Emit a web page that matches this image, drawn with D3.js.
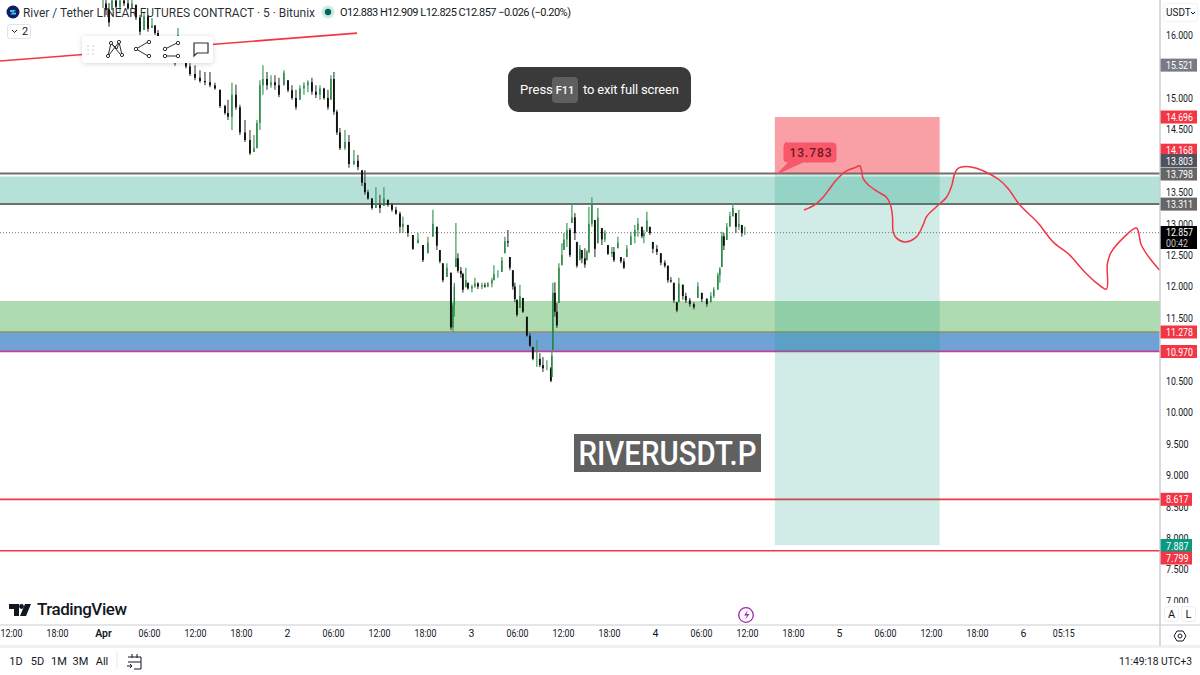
<!DOCTYPE html>
<html><head><meta charset="utf-8">
<script src="https://cdn.jsdelivr.net/npm/d3@7"></script>
<style>
html,body{margin:0;padding:0;background:#fff;overflow:hidden}
svg{display:block}
text{font-family:Roboto,"Noto Sans",sans-serif}
</style></head><body>
<svg id="c" width="1200" height="675"></svg>
<script>
// Hours since 1 Apr 00:00
const barHour=[-0.13,0.26,0.65,1.04,1.56,2.09,2.61,3.13,3.65,4.17,4.69,5.22,5.74,6.26,6.65,7.04,7.56,8.35,8.87,9.26,9.65,10.17,10.69,11.21,11.87,12.52,13.17,13.82,14.47,15.13,15.78,16.17,16.69,17.21,17.73,18.39,19.04,19.56,19.95,20.34,20.73,21.26,21.78,22.30,22.82,23.47,24.0,24.52,25.04,25.56,26.08,26.6,27.12,27.64,28.17,28.69,29.21,29.6,29.99,30.38,30.77,31.43,31.95,32.6,33.12,33.65,34.03,34.43,34.95,35.47,35.99,36.51,37.03,37.56,38.08,38.6,38.99,39.64,40.29,40.95,41.6,42.25,42.9,43.42,43.81,44.2,44.73,45.25,45.51,45.7,45.9,46.16,46.55,46.81,47.2,47.47,47.99,48.38,48.77,49.29,49.68,50.07,50.6,50.86,51.38,51.9,52.29,52.68,52.94,53.33,53.59,53.86,54.25,54.64,55.16,55.55,55.94,56.46,56.85,57.25,57.77,58.29,58.42,58.55,58.81,59.07,59.34,59.73,59.99,60.38,60.77,61.03,61.42,61.68,62.07,62.33,62.72,62.99,63.25,63.64,64.03,64.42,64.94,65.33,65.73,66.25,66.51,67.03,67.42,67.81,68.2,68.72,69.24,69.64,70.16,70.42,70.81,71.2,71.59,72.11,72.63,73.15,73.55,73.94,74.33,74.72,74.98,75.5,75.89,76.41,76.94,77.46,77.98,78.63,79.15,79.54,80.07,80.33,80.59,80.85,81.24,81.64,82.03,82.42,82.81,83.2,83.59];
const barHigh=[16.64,16.64,16.51,16.60,16.60,16.64,16.64,16.59,16.56,16.48,16.32,16.37,16.32,16.27,16.16,16.08,15.95,15.89,15.92,15.60,16.11,15.84,15.68,15.55,15.52,15.44,15.41,15.41,15.24,15.13,14.89,14.97,15.24,15.21,14.89,14.65,14.49,14.41,14.65,15.28,15.52,15.41,15.36,15.36,15.32,15.44,15.28,15.20,15.13,15.20,15.25,15.28,15.32,15.2,15.2,15.16,15.13,15.36,15.41,14.81,14.52,14.49,14.41,14.17,14.09,13.85,13.85,13.54,13.41,13.58,13.46,13.58,13.38,13.33,13.27,13.19,13.11,12.98,12.82,12.85,12.66,12.79,13.22,12.95,12.58,12.37,12.37,12.22,11.74,12.06,13.01,12.53,12.31,12.22,12.3,12.06,12.03,12.14,12.07,12.06,12.06,12.07,12.14,12.34,12.26,12.47,12.79,12.9,12.47,12.26,12.06,11.79,12.03,11.82,11.52,11.26,11.04,11.15,10.94,10.88,10.83,10.72,10.99,12.06,12.07,11.74,12.37,12.69,12.85,13.01,12.93,13.33,13.17,12.71,12.66,12.58,12.61,12.58,13.27,13.42,13.06,13.25,12.93,12.9,12.66,12.63,12.63,12.79,12.47,12.45,12.66,12.87,12.98,13.09,12.95,12.9,13.19,12.95,12.71,12.66,12.53,12.42,12.34,12.15,12.06,11.75,12.14,12.03,11.9,11.82,11.75,12.07,11.9,11.82,11.91,11.99,12.22,12.31,12.87,12.85,13.01,13.19,13.33,13.17,13.22,12.98,12.95];
const barLow=[16.43,16.32,16.13,16.40,16.43,16.37,16.46,16.40,16.43,16.24,16.0,16.08,16.05,16.11,16.0,15.89,15.76,15.68,15.63,15.51,15.98,15.57,15.47,15.35,15.28,15.24,15.20,15.17,15.13,14.84,14.73,14.65,14.49,14.81,14.41,14.30,14.09,14.14,14.20,14.49,15.05,15.13,15.16,15.13,15.01,15.20,15.09,14.97,14.81,14.97,15.05,15.09,15.05,15.0,14.97,14.97,14.81,14.97,14.73,14.41,14.17,14.17,13.89,13.93,13.85,13.6,13.46,13.38,13.22,13.25,13.17,13.28,13.27,13.19,13.14,12.85,12.85,12.79,12.58,12.69,12.39,12.53,12.79,12.58,12.37,12.07,12.15,11.31,11.28,11.52,12.31,12.22,12.14,11.9,11.99,11.95,11.91,11.98,11.96,11.96,11.98,11.99,11.99,12.1,12.14,12.23,12.53,12.63,12.26,11.95,11.75,11.52,11.66,11.58,11.2,11.04,10.83,10.72,10.72,10.64,10.67,10.48,10.56,10.99,11.52,11.34,11.74,12.34,12.58,12.63,12.47,13.01,12.74,12.3,12.42,12.37,12.3,12.42,12.53,12.95,12.47,12.69,12.66,12.71,12.5,12.47,12.39,12.61,12.37,12.28,12.47,12.66,12.69,12.79,12.77,12.69,12.87,12.82,12.53,12.5,12.34,12.3,12.06,12.06,11.74,11.59,11.75,11.79,11.74,11.68,11.64,11.82,11.75,11.68,11.75,11.82,11.95,12.06,12.31,12.58,12.74,12.95,13.11,12.85,12.9,12.79,12.82];
const barClose=[16.50,16.40,16.20,16.55,16.45,16.55,16.50,16.42,16.50,16.28,16.05,16.30,16.10,16.15,16.03,15.92,15.80,15.72,15.68,15.55,16.0,15.6,15.5,15.38,15.32,15.27,15.25,15.2,15.15,14.87,14.76,14.7,15.05,14.85,14.45,14.33,14.12,14.2,14.6,15.2,15.3,15.2,15.25,15.2,15.05,15.4,15.12,15.0,14.85,15.15,15.2,15.25,15.1,15.05,15.15,15.0,14.85,15.3,14.78,14.45,14.2,14.3,13.95,14.0,13.9,13.65,13.5,13.4,13.25,13.3,13.25,13.4,13.3,13.22,13.16,12.95,13.0,12.85,12.6,12.75,12.42,12.7,13.0,12.65,12.4,12.1,12.3,11.35,11.7,12.0,12.45,12.25,12.2,11.95,12.1,11.97,12.0,12.05,12.0,12.02,12.0,12.05,12.1,12.2,12.2,12.42,12.72,12.7,12.3,12.0,11.8,11.55,11.85,11.6,11.22,11.06,10.85,10.85,10.75,10.7,10.7,10.5,10.9,11.9,11.6,11.38,12.3,12.5,12.75,12.9,12.5,13.1,12.85,12.33,12.6,12.45,12.35,12.55,13.0,13.3,12.6,13.1,12.75,12.85,12.52,12.55,12.42,12.7,12.4,12.3,12.6,12.8,12.9,13.0,12.8,12.85,13.05,12.85,12.6,12.55,12.38,12.33,12.1,12.08,11.78,11.62,12.05,11.85,11.78,11.72,11.67,12.0,11.8,11.72,11.85,11.95,12.18,12.28,12.8,12.65,12.95,13.12,13.25,12.95,13.0,12.85,12.857];
// Hand-drawn projection
const sketchHour=[91.3,92.7,93.8,94.67,95.54,96.85,97.93,98.58,98.8,99.01,99.67,100.76,102.06,102.58,102.85,102.93,103.37,104.45,105.97,106.84,107.28,108.58,109.89,110.54,110.97,111.4,112.49,113.8,115.53,116.84,117.92,119.44,121.83,123.79,125.96,127.7,129.44,130.75,130.88,131.4,132.92,134.66,135.3,136.4,137.7];
const sketchPrice=[13.217,13.30,13.42,13.56,13.70,13.84,13.89,13.92,13.85,13.72,13.62,13.52,13.42,13.30,13.11,12.87,12.77,12.71,12.79,12.98,13.11,13.27,13.42,13.59,13.80,13.88,13.91,13.88,13.79,13.69,13.56,13.30,13.01,12.71,12.50,12.26,12.06,11.96,12.37,12.55,12.77,12.93,12.66,12.45,12.26];
const priceTicks=[16,15,14.5,13.5,13,12.5,12,11.5,10.5,10,9.5,9,8.5,8,7.5,7];
const timeTickHours=[-12,-6,0,6,12,18,24,30,36,42,48,54,60,66,72,78,84,90,96,102,108,114,120,125.25];
const timeTickLabels=["12:00","18:00","Apr","06:00","12:00","18:00","2","06:00","12:00","18:00","3","06:00","12:00","18:00","4","06:00","12:00","18:00","5","06:00","12:00","18:00","6","05:15"];
const priceTags=[
 {v:15.521,t:"15.521",c:"#787b86",w:37},
 {v:14.696,t:"14.696",c:"#f23645",w:37},
 {v:14.168,t:"14.168",c:"#f23645",w:37},
 {v:13.803,t:"13.803",c:"#50535e",w:37,ty:160.5},
 {v:13.798,t:"13.798",c:"#666666",w:37,ty:174},
 {v:13.311,t:"13.311",c:"#666666",w:37},
 {v:11.278,t:"11.278",c:"#f23645",w:37,ty:332},
 {v:10.970,t:"10.970",c:"#f23645",w:37,ty:351.5},
 {v:8.617,t:"8.617",c:"#f23645",w:32},
 {v:7.887,t:"7.887",c:"#089981",w:32,ty:545.5},
 {v:7.799,t:"7.799",c:"#f23645",w:32,ty:558}
];
const rangeButtons=["1D","5D","1M","3M","All"];
const zoneTopLine=13.798, zoneTopFill=13.75, zoneBottom=13.311, lastPrice=12.857;
const greenTop=11.77, blueTop=11.278, blueBottom=10.97, tpHigh=8.617, tpLow=7.799;
const posTop=14.696, posEntry=13.798, posStop=7.887, posStartHour=87.5, posEndHour=109;
const trendHours=[-13.56,33], trendPrices=[15.586,16.03];

const svg=d3.select("#c");
const y=d3.scaleLinear().domain([16,7]).range([35,601]);
const x=d3.scaleLinear().domain([0,120]).range([104,1024]);
const W=1160, AX=646;
svg.append("defs").append("clipPath").attr("id","plot").append("rect").attr("width",W).attr("height",625);
svg.select("defs").append("filter").attr("id","sh").attr("x","-10%").attr("y","-20%").attr("width","120%").attr("height","150%")
 .append("feDropShadow").attr("dx",0).attr("dy",1).attr("stdDeviation",2.5).attr("flood-color","#000").attr("flood-opacity",.16);
const g=svg.append("g").attr("clip-path","url(#plot)");
const band=(a,b,c)=>g.append("rect").attr("x",0).attr("width",W).attr("y",y(a)).attr("height",y(b)-y(a)).attr("fill",c);
const hline=(v,c,w,d)=>g.append("line").attr("x1",0).attr("x2",W).attr("y1",y(v)).attr("y2",y(v)).attr("stroke",c).attr("stroke-width",w).attr("stroke-dasharray",d||null);
band(zoneTopFill,zoneBottom,"#b6e1d8");
band(greenTop,blueTop,"#aedbb0");
band(blueTop,blueBottom,"#6fa3d6");
hline(zoneTopLine,"#707070",1.8);
hline(zoneBottom,"#6e6e6e",2);
hline(blueTop,"#9a8a55",1.3);
hline(blueBottom,"#c2409a",1.6);
hline(tpHigh,"#f23645",1.7);
hline(tpLow,"#f23645",1.7);
hline(lastPrice,"#777",1,"1 2");
// position tool
g.append("rect").attr("x",x(posStartHour)).attr("width",x(posEndHour)-x(posStartHour)).attr("y",y(posTop)).attr("height",y(posEntry)-y(posTop)).attr("fill","#f23645").attr("fill-opacity",.47);
g.append("rect").attr("x",x(posStartHour)).attr("width",x(posEndHour)-x(posStartHour)).attr("y",y(posEntry)).attr("height",y(posStop)-y(posEntry)).attr("fill","#089981").attr("fill-opacity",.19);
// trend line
g.append("line").attr("x1",x(trendHours[0])).attr("x2",x(trendHours[1])).attr("y1",y(trendPrices[0])).attr("y2",y(trendPrices[1])).attr("stroke","#f23645").attr("stroke-width",1.6);
// candles
const bars=barHour.map((h,i)=>({h,hi:barHigh[i],lo:barLow[i],c:barClose[i],o:i?barClose[i-1]:barClose[0]}));
g.selectAll(".w").data(bars).join("line").attr("x1",d=>x(d.h)).attr("x2",d=>x(d.h)).attr("y1",d=>y(d.hi)).attr("y2",d=>y(d.lo))
 .attr("stroke",d=>d.c>=d.o?"#3f9a5a":"#4a4a4a").attr("stroke-width",1.2);
g.selectAll(".b").data(bars).join("line").attr("x1",d=>x(d.h)).attr("x2",d=>x(d.h))
 .attr("y1",d=>y(Math.min(d.hi,Math.max(d.o,d.c)))).attr("y2",d=>y(Math.max(d.lo,Math.min(d.o,d.c))))
 .attr("stroke",d=>d.c>=d.o?"#1f7f3c":"#0c120e").attr("stroke-width",d=>d.c>=d.o?1.3:1.9);
// sketch
const line=d3.line().x(d=>x(d[0])).y(d=>y(d[1])).curve(d3.curveCatmullRom.alpha(.5));
g.append("path").attr("d",line(sketchHour.map((h,i)=>[h,sketchPrice[i]]))).attr("fill","none").attr("stroke","#f23645").attr("stroke-width",1.5).attr("stroke-linejoin","round");
// callout
const cg=svg.append("g");
cg.append("path").attr("d","M785 143 h48 a3 3 0 0 1 3 3 v13 a3 3 0 0 1 -3 3 h-30 l-26 12 l12 -12 h-2 a3 3 0 0 1 -3 -3 v-13 a3 3 0 0 1 3 -3z").attr("fill","#f9576a").attr("stroke","#f9576a");
cg.append("text").attr("x",811).attr("y",157).attr("text-anchor","middle").attr("font-size",12).attr("font-weight",500).attr("letter-spacing",.9).attr("fill","#6b1a24").text("13.783");
// watermark
svg.append("rect").attr("x",574).attr("y",434).attr("width",187).attr("height",38).attr("fill","#606060");
svg.append("text").attr("x",667.5).attr("y",465).attr("text-anchor","middle").attr("font-size",33).attr("font-weight",500).attr("fill","#fff").attr("textLength",178).attr("lengthAdjust","spacingAndGlyphs").text("RIVERUSDT.P");
// header
svg.append("circle").attr("cx",13).attr("cy",12).attr("r",6.5).attr("fill","#101c66");
svg.append("path").attr("d","M10 10h6l-3 2.5h3v2h-6l3-2.5h-3z").attr("fill","#3cc4e6");
svg.append("text").attr("x",23).attr("y",17).attr("font-size",13).attr("fill","#131722").attr("fill-opacity",.92).attr("textLength",292).attr("lengthAdjust","spacingAndGlyphs").text("River / Tether LINEAR FUTURES CONTRACT · 5 · Bitunix");
svg.append("circle").attr("cx",328).attr("cy",12).attr("r",6.5).attr("fill","#cfe9e3");
svg.append("circle").attr("cx",328).attr("cy",12).attr("r",3.2).attr("fill","#056656");
svg.append("text").attr("x",340).attr("y",16).attr("font-size",11).attr("fill","#131722").attr("textLength",231).attr("lengthAdjust","spacing").text("O12.883 H12.909 L12.825 C12.857 −0.026 (−0.20%)");
svg.append("rect").attr("x",7.5).attr("y",24.5).attr("width",23).attr("height",14).attr("rx",2).attr("fill","#fff").attr("stroke","#e0e3eb");
svg.append("path").attr("d","M12 30l2.5 2.5l2.5-2.5").attr("fill","none").attr("stroke","#131722");
svg.append("text").attr("x",22).attr("y",35).attr("font-size",11).attr("fill","#131722").text("2");
// drawing toolbar
svg.append("rect").attr("x",82).attr("y",36).attr("width",131).attr("height",27).attr("rx",4).attr("fill","#fff").attr("filter","url(#sh)");
[[88,46],[88,50],[88,54],[93,46],[93,50],[93,54]].forEach(p=>svg.append("circle").attr("cx",p[0]).attr("cy",p[1]).attr("r",.8).attr("fill","#c4c6cc"));
const ic=svg.append("g").attr("fill","none").attr("stroke","#2a2e39").attr("stroke-width",1);
ic.append("path").attr("d","M108 56L111 43L117 49L119 42L122 55M111 43L120 54M119 42L109 55");
[[108,56],[111,43],[119,42],[122,55]].forEach(p=>ic.append("circle").attr("cx",p[0]).attr("cy",p[1]).attr("r",1.6).attr("fill","#fff"));
ic.append("path").attr("d","M136 49L148 42M136 49L148 56");
[[136,49],[149,42],[149,56]].forEach(p=>ic.append("circle").attr("cx",p[0]).attr("cy",p[1]).attr("r",1.7).attr("fill","#fff"));
ic.append("path").attr("d","M165 49L177 43M165 56L177 56");
[[165,49],[178,43],[165,56],[178,56]].forEach(p=>ic.append("circle").attr("cx",p[0]).attr("cy",p[1]).attr("r",1.7).attr("fill","#fff"));
ic.append("path").attr("d","M194 43h14v10h-11l-3 3z").attr("stroke-width",1.2);
// F11 toast
svg.append("rect").attr("x",508).attr("y",67).attr("width",183).attr("height",45).attr("rx",10).attr("fill","#3a3a3a");
svg.append("rect").attr("x",552).attr("y",77).attr("width",26).attr("height",26).attr("rx",4).attr("fill","#5f5f5f");
svg.append("text").attr("x",520).attr("y",94).attr("font-size",13).attr("fill","#fff").text("Press");
svg.append("text").attr("x",565).attr("y",94).attr("font-size",11).attr("font-weight",500).attr("text-anchor","middle").attr("fill","#fff").text("F11");
svg.append("text").attr("x",583).attr("y",94).attr("font-size",13).attr("fill","#fff").attr("textLength",96).text("to exit full screen");
// logo
svg.append("path").attr("d","M9 604h10v12h-5v-7h-5z M25 604h6l-5 12h-6z").attr("fill","#131722");
svg.append("circle").attr("cx",21.5).attr("cy",606.5).attr("r",2.4).attr("fill","#131722");
svg.append("text").attr("x",37).attr("y",615).attr("font-size",17).attr("font-weight",500).attr("fill","#131722").attr("textLength",90).text("TradingView");
// bolt
svg.append("circle").attr("cx",746).attr("cy",615).attr("r",7.3).attr("fill","#fff").attr("stroke","#9c27b0").attr("stroke-width",1.3);
svg.append("path").attr("d","M748 610l-4 5.5h3l-2 4.5l4.5-6h-3z").attr("fill","#9c27b0");
// price axis panel
svg.append("rect").attr("x",W).attr("y",0).attr("width",40).attr("height",AX).attr("fill","#fff");
const yAxis=svg.append("g").attr("transform",`translate(${W},0)`).call(d3.axisRight(y).tickValues(priceTicks).tickSize(0).tickPadding(6).tickFormat(d3.format(".3f")));
yAxis.select(".domain").remove();
yAxis.selectAll("text").attr("font-size",10.5).attr("font-family","Roboto,sans-serif").attr("fill","#131722").attr("textLength",d=>d>=10?27:22.5).attr("lengthAdjust","spacingAndGlyphs");
svg.append("rect").attr("x",W+1).attr("y",603).attr("width",39).attr("height",22).attr("fill","#fff");
const tag=(d)=>{const cy=d.ty!==undefined?d.ty:y(d.v);
 svg.append("rect").attr("x",W).attr("y",cy-6.5).attr("width",d.w).attr("height",13).attr("fill",d.c);
 svg.append("text").attr("x",W+6).attr("y",cy+4).attr("font-size",10.5).attr("fill","#fff").attr("textLength",d.t.length===6?27:22.5).attr("lengthAdjust","spacingAndGlyphs").text(d.t);};
priceTags.forEach(tag);
svg.append("rect").attr("x",W).attr("y",226).attr("width",37).attr("height",23).attr("fill","#000");
svg.append("text").attr("x",W+6).attr("y",236).attr("font-size",10.5).attr("fill","#fff").attr("textLength",27).attr("lengthAdjust","spacingAndGlyphs").text("12.857");
svg.append("text").attr("x",W+6).attr("y",247).attr("font-size",10.5).attr("fill","#c8c8c8").attr("textLength",22).attr("lengthAdjust","spacingAndGlyphs").text("00:42");
svg.append("rect").attr("x",1163.5).attr("y",3.5).attr("width",34).attr("height",18).attr("rx",3).attr("fill","#fff").attr("stroke","#f0f3fa");
svg.append("text").attr("x",1166).attr("y",16).attr("font-size",10).attr("fill","#131722").text("USDT");
svg.append("path").attr("d","M1191 12l2 2l2-2").attr("fill","none").attr("stroke","#131722");
[[1164,"A"],[1181,"L"]].forEach(a=>{
 svg.append("rect").attr("x",a[0]+.5).attr("y",606.5).attr("width",14).attr("height",15).attr("rx",3).attr("fill","#fff").attr("stroke","#eceef2");
 svg.append("text").attr("x",a[0]+7.5).attr("y",618).attr("text-anchor","middle").attr("font-size",11).attr("fill","#131722").text(a[1]);});
// time axis
const xAxis=svg.append("g").attr("transform","translate(-1,625)").call(d3.axisBottom(x).tickValues(timeTickHours).tickSize(0).tickPadding(5).tickFormat((d,i)=>timeTickLabels[i]));
xAxis.select(".domain").remove();
xAxis.selectAll("text").attr("font-size",10.5).attr("font-family","Roboto,sans-serif").attr("fill","#131722").attr("font-weight",(d,i)=>timeTickLabels[i]==="Apr"?600:400)
 .attr("textLength",(d,i)=>timeTickLabels[i].length===5?22:null).attr("lengthAdjust","spacingAndGlyphs");
svg.append("line").attr("x1",0).attr("x2",1200).attr("y1",625).attr("y2",625).attr("stroke","#c9cbd0").attr("stroke-width",1.2);
svg.append("rect").attr("x",0).attr("y",645).attr("width",1200).attr("height",3).attr("fill","#f0f1f3");
svg.append("line").attr("x1",W).attr("x2",W).attr("y1",0).attr("y2",646).attr("stroke","#c9cbd0").attr("stroke-width",1.4);
// settings icon
svg.append("path").attr("d","M1174 636l3-5h6l3 5l-3 5h-6z").attr("fill","none").attr("stroke","#131722");
svg.append("circle").attr("cx",1180).attr("cy",636).attr("r",2).attr("fill","none").attr("stroke","#131722");
// bottom bar
const bx=d3.scalePoint().domain(rangeButtons).range([16,102]);
svg.selectAll(".rb").data(rangeButtons).join("text").attr("x",d=>bx(d)).attr("y",665).attr("text-anchor","middle").attr("font-size",11).attr("fill","#131722").text(d=>d);
svg.append("line").attr("x1",117).attr("x2",117).attr("y1",652).attr("y2",669).attr("stroke","#e6e7ea");
svg.append("path").attr("d","M128 657h13v12h-7M128 662h13M132 654v4M137 654v4M127 666h5m-2-2l2 2l-2 2").attr("fill","none").attr("stroke","#131722");
svg.append("text").attr("x",1119).attr("y",665).attr("font-size",11).attr("fill","#131722").attr("textLength",73).attr("lengthAdjust","spacingAndGlyphs").text("11:49:18 UTC+3");
</script></body></html>
